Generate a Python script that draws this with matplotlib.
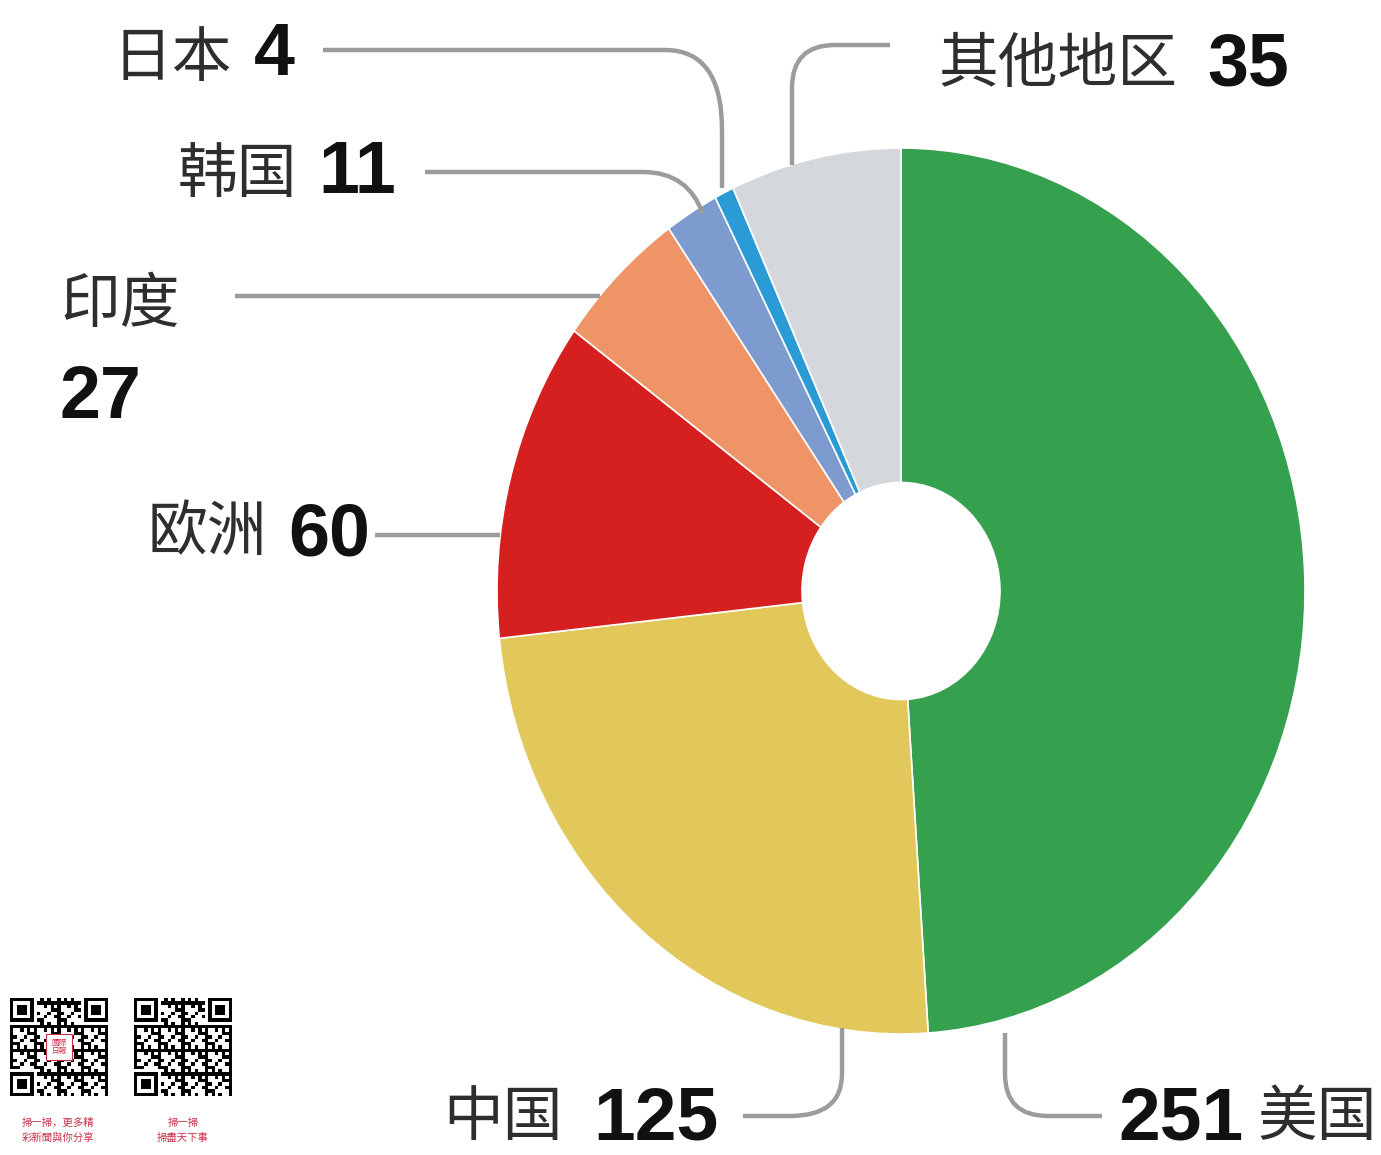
import matplotlib
matplotlib.use('Agg')
import matplotlib.pyplot as plt
from matplotlib.path import Path
from matplotlib.patches import PathPatch, Rectangle
import numpy as np

# data, clockwise from the top
regions = ['美国', '中国', '欧洲', '印度', '韩国', '日本', '其他地区']
values = [251, 125, 60, 27, 11, 4, 35]
colors = ['#35a04e', '#e2c75a', '#d61f1f', '#ef9466', '#7d9bcf', '#2b9bd6', '#d4d7dc']

qr_notes = [['掃一掃，更多精', '彩新聞與你分享'], ['掃一掃', '掃盡天下事']]

W, H = 1381, 1155
fig = plt.figure(figsize=(W / 100, H / 100), dpi=100)
fig.patch.set_facecolor('white')

# pie sits in its own axes, stretched a bit taller than wide like the original
cx, cy, rx, ry = 901, 591, 404, 443
pax = fig.add_axes([(cx - rx) / W, (H - cy - ry) / H, 2 * rx / W, 2 * ry / H])
pax.pie(values, colors=colors, startangle=90, counterclock=False, radius=1,
        wedgeprops=dict(width=0.755, edgecolor='white', linewidth=1.2))
pax.set_aspect('auto')
pax.set_xlim(-1, 1)
pax.set_ylim(-1, 1)
pax.axis('off')

# overlay in pixel coordinates for labels and leaders
ax = fig.add_axes([0, 0, 1, 1])
ax.set_xlim(0, W)
ax.set_ylim(H, 0)
ax.axis('off')
ax.patch.set_alpha(0)

line_col = '#9c9c9c'


def leader(pts, codes):
    ax.add_patch(PathPatch(Path(pts, codes), fill=False, edgecolor=line_col, lw=3.2, capstyle='butt'))


M, L, Q = Path.MOVETO, Path.LINETO, Path.CURVE3
leader([(323, 50), (665, 50), (722, 50), (722, 130), (722, 188)], [M, L, Q, Q, L])       # 日本
leader([(425, 172), (643, 172), (688, 172), (703, 214)], [M, L, Q, Q])                   # 韩国
leader([(235, 296), (600, 296)], [M, L])                                                  # 印度
leader([(375, 535), (500, 535)], [M, L])                                                  # 欧洲
leader([(890, 45), (835, 45), (792, 45), (792, 88), (792, 165)], [M, L, Q, Q, L])         # 其他地区
leader([(743, 1116), (790, 1116), (842, 1116), (842, 1074), (842, 1028)], [M, L, Q, Q, L])   # 中国
leader([(1102, 1116), (1048, 1116), (1005, 1116), (1005, 1074), (1005, 1033)], [M, L, Q, Q, L])  # 美国

cjk = ['Noto Sans CJK SC', 'DejaVu Sans']
num_font = ['Liberation Sans', 'DejaVu Sans']
txt_col = '#2e2e2e'


def name(x, y, s):
    ax.text(x, y, s, fontsize=43, family=cjk, color=txt_col, ha='left', va='baseline')


def num(x, y, s, size=53):
    ax.text(x, y, s, fontsize=size, family=num_font, weight='bold', color='#111111',
            ha='left', va='baseline')


name(113, 76, regions[5]); num(254, 75, str(values[5]))
name(178, 192, regions[4]); num(318, 193, str(values[4]))
name(60, 322, regions[3]); num(60, 418, str(values[3]))
name(148, 550, regions[2]); num(288, 555, str(values[2]))
name(938, 82, regions[6]); num(1207, 85, str(values[6]))
name(443, 1135, regions[1]); num(593, 1139, str(values[1]), 54)
num(1118, 1139, str(values[0]), 54); name(1258, 1135, regions[0])

# two QR code blocks, bottom left (decorative)
def qr(x0, y0, size, n=29):
    c = size / n
    ax.add_patch(Rectangle((x0, y0), size, size, facecolor='white', edgecolor='none'))
    for i in range(n):
        for j in range(n):
            if (i < 8 and j < 8) or (i < 8 and j >= n - 8) or (i >= n - 8 and j < 8):
                continue
            if (i * 7 + j * 11 + i * j * 3) % 7 < 3:
                ax.add_patch(Rectangle((x0 + j * c, y0 + i * c), c, c, facecolor='black', edgecolor='none'))
    for (fi, fj) in [(0, 0), (0, n - 7), (n - 7, 0)]:
        ax.add_patch(Rectangle((x0 + fj * c, y0 + fi * c), 7 * c, 7 * c, facecolor='black', edgecolor='none'))
        ax.add_patch(Rectangle((x0 + (fj + 1) * c, y0 + (fi + 1) * c), 5 * c, 5 * c, facecolor='white', edgecolor='none'))
        ax.add_patch(Rectangle((x0 + (fj + 2) * c, y0 + (fi + 2) * c), 3 * c, 3 * c, facecolor='black', edgecolor='none'))


qr(10, 998, 98)
qr(134, 998, 98)
# red stamp in the middle of the first code
ax.add_patch(Rectangle((46, 1034), 26, 26, facecolor='white', edgecolor='#c8304a', lw=0.8))
ax.text(59, 1047, '國際\n日報', fontsize=5.5, family=cjk, color='#c8304a', ha='center', va='center',
        linespacing=1.1)

for xc, lines in zip([58, 183], qr_notes):
    ax.text(xc, 1123, lines[0], fontsize=7.5, family=cjk, color='#c8304a', ha='center', va='center')
    ax.text(xc, 1138, lines[1], fontsize=7.5, family=cjk, color='#c8304a', ha='center', va='center')

fig.savefig('out.png', dpi=100, facecolor='white')
